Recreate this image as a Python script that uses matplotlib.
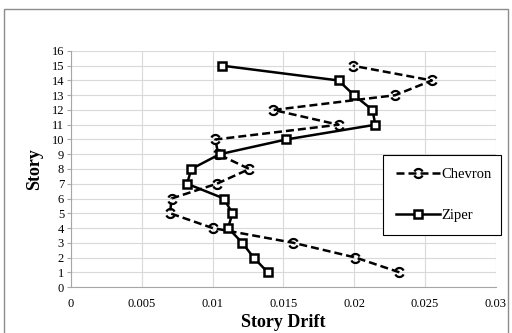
import matplotlib
matplotlib.use("Agg")
import matplotlib.pyplot as plt
from matplotlib.path import Path
from matplotlib.patches import Rectangle

plt.rcParams['font.family'] = ['Liberation Serif', 'DejaVu Serif']

stories = [1, 2, 3, 4, 5, 6, 7, 8, 9, 10, 11, 12, 13, 14, 15]
chevron = [0.0232, 0.0201, 0.0157, 0.0100, 0.0070, 0.0071, 0.0103, 0.0126,
           0.0104, 0.0102, 0.0189, 0.0143, 0.0229, 0.0255, 0.0199]
ziper = [0.0139, 0.0129, 0.0121, 0.0111, 0.0114, 0.0108, 0.0082, 0.0085,
         0.0105, 0.0152, 0.0215, 0.0213, 0.0200, 0.0189, 0.0107]

x_ticks = [0, 0.005, 0.01, 0.015, 0.02, 0.025, 0.03]
x_tick_labels = ['0', '0.005', '0.01', '0.015', '0.02', '0.025', '0.03']
y_ticks = list(range(0, 17))

# broken-circle marker for the dashed series
arc_a = Path.arc(25, 155)
arc_b = Path.arc(205, 335)
broken_circle = Path.make_compound_path(arc_a, arc_b)

fig = plt.figure(figsize=(5.12, 3.33), dpi=100)
ax = fig.add_axes([0.1387, 0.138, 0.8293, 0.709])

ax.plot(chevron, stories, color='black', lw=1.8, linestyle=(0, (3.2, 1.6)),
        marker=broken_circle, markersize=6.5, markerfacecolor='none',
        markeredgecolor='black', markeredgewidth=1.6, label='Chevron')
ax.plot(ziper, stories, color='black', lw=1.8,
        marker='s', markersize=6, markerfacecolor='white',
        markeredgecolor='black', markeredgewidth=1.8, label='Ziper')

ax.set_xlim(0, 0.03)
ax.set_ylim(0, 16)
ax.set_xticks(x_ticks)
ax.set_xticklabels(x_tick_labels)
ax.set_yticks(y_ticks)
ax.tick_params(axis='both', labelsize=9, colors='black')
ax.tick_params(axis='y', length=3, color='#a6a6a6', width=0.8, pad=2)
ax.tick_params(axis='x', length=0, pad=8)

ax.grid(True, color='#d9d9d9', lw=0.8)
ax.set_axisbelow(True)
for side in ['top', 'right']:
    ax.spines[side].set_visible(False)
for side in ['left', 'bottom']:
    ax.spines[side].set_color('#a6a6a6')
    ax.spines[side].set_linewidth(0.8)

ax.set_xlabel('Story Drift', fontsize=13, fontweight='bold', labelpad=3)
ax.set_ylabel('Story', fontsize=13, fontweight='bold', labelpad=6)

leg = ax.legend(loc='upper left', bbox_to_anchor=(0.734, 0.229, 0.278, 0.33),
                mode='expand', fontsize=10.5, frameon=True, fancybox=False,
                borderpad=0.9, labelspacing=1.9, handlelength=3.0,
                handletextpad=0.1, borderaxespad=0)
leg.get_frame().set_edgecolor('black')
leg.get_frame().set_linewidth(0.8)
leg.get_frame().set_alpha(1)
leg.set_zorder(5)

# outer chart border
fig.patches.append(Rectangle((0.008, -0.05), 0.984, 1.023, transform=fig.transFigure,
                             fill=False, edgecolor='#8c8c8c', lw=1.0))

fig.savefig('out.png', dpi=100)
